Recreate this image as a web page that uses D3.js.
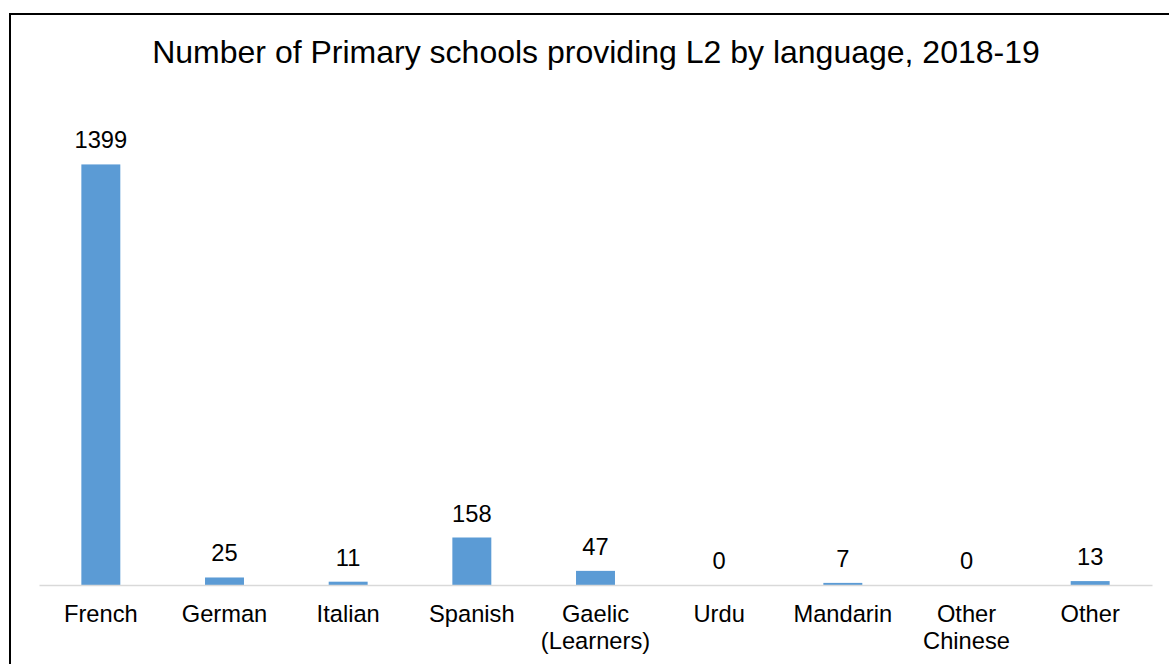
<!DOCTYPE html>
<html><head><meta charset="utf-8">
<script src="https://cdn.jsdelivr.net/npm/d3@7"></script>
<style>body{margin:0;background:#fff;}svg{display:block;font-family:"Liberation Sans",Arial,sans-serif;}</style>
</head><body>
<svg id="chart" width="1169" height="664"></svg>
<script>
const categories = ["French","German","Italian","Spanish","Gaelic\n(Learners)","Urdu","Mandarin","Other\nChinese","Other"];
const values = [1399,25,11,158,47,0,7,0,13];
const title = "Number of Primary schools providing L2 by language, 2018-19";

const svg = d3.select("#chart");
const W = 1169, H = 664;
svg.append("rect").attr("x",0).attr("y",0).attr("width",W).attr("height",H).attr("fill","#fff");
// outer border
svg.append("rect").attr("x",10).attr("y",14).attr("width",1170).attr("height",700)
  .attr("fill","none").attr("stroke","#000").attr("stroke-width",2);

const x = d3.scaleBand().domain(categories).range([39,1152]).paddingInner(0.685).paddingOuter(0.3425);
const y = d3.scaleLinear().domain([0,1600]).range([585,104]);

svg.append("text").attr("x",596).attr("y",63).attr("text-anchor","middle")
  .attr("font-size",32).attr("fill","#000").text(title);

svg.selectAll("rect.bar").data(values).enter().append("rect").attr("class","bar")
  .attr("x",(d,i)=>x(categories[i])).attr("width",x.bandwidth())
  .attr("y",d=>y(d)).attr("height",d=>y(0)-y(d)).attr("fill","#5B9BD5");

// axis
const axisG = svg.append("g").attr("transform",`translate(0,${y(0)})`)
  .call(d3.axisBottom(x).tickSize(0).tickFormat(""));
axisG.select(".domain").attr("stroke","#d9d9d9").attr("stroke-width",1.5);

// data labels
svg.selectAll("text.val").data(values).enter().append("text").attr("class","val")
  .attr("x",(d,i)=>x(categories[i])+x.bandwidth()/2).attr("y",d=>y(d)-16)
  .attr("text-anchor","middle").attr("font-size",23.7).attr("fill","#000").text(d=>d);

// category labels
const lab = svg.selectAll("text.cat").data(categories).enter().append("text").attr("class","cat")
  .attr("x",d=>x(d)+x.bandwidth()/2).attr("y",622)
  .attr("text-anchor","middle").attr("font-size",23.7).attr("fill","#000");
lab.each(function(d){
  const t = d3.select(this);
  d.split("\n").forEach((s,i)=>{
    t.append("tspan").attr("x",x(d)+x.bandwidth()/2).attr("dy",i===0?0:27).text(s);
  });
});
</script>
</body></html>
